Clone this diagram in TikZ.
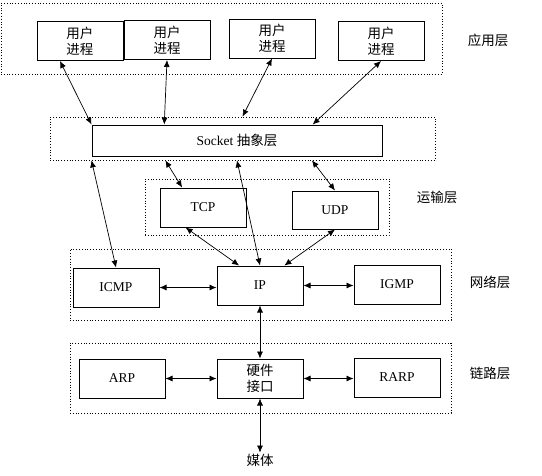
\documentclass[tikz,border=0pt]{standalone}
\usepackage{fontspec}
\setmainfont{Liberation Serif}
\newfontfamily\cjk{Noto Sans CJK SC}
\usetikzlibrary{arrows.meta,calc}
\begin{document}
\begin{tikzpicture}[x=1pt,y=-1pt,
  box/.style={draw,line width=1pt,minimum width=86pt,minimum height=39pt,inner sep=0pt,align=center,font=\fontsize{13.5}{16}\selectfont},
  cbox/.style={box,font=\cjk\fontsize{13.5}{16}\selectfont},
  layer/.style={draw,dotted,line width=0.8pt,inner sep=0pt},
  link/.style={{Latex[length=7pt,width=6pt]}-{Latex[length=7pt,width=6pt]},line width=0.7pt},
  tag/.style={font=\cjk\fontsize{13.5}{16}\selectfont,inner sep=1pt}]
  \useasboundingbox[fill=white] (0,0) rectangle (542,475);
  \node[layer,minimum width=441pt,minimum height=71pt] (applayer) at (221.5,38.5) {};
  \node[layer,minimum width=385pt,minimum height=43pt] (socklayer) at (242.5,138.5) {};
  \node[layer,minimum width=244pt,minimum height=56pt] (translayer) at (267,207) {};
  \node[layer,minimum width=381pt,minimum height=71pt] (netlayer) at (260.5,284.5) {};
  \node[layer,minimum width=381pt,minimum height=70pt] (linklayer) at (260.5,378) {};
  \foreach \i/\x/\y in {1/80/41,2/167/40,3/272/38.5,4/381/41} {%
    \node[cbox] (proc\i) at (\x,\y) {用户\\进程};
  }
  \node[box,minimum width=290pt,minimum height=31pt] (socket) at (237,140.5) {Socket {\cjk 抽象层}};
  \node[box] (tcp) at (203,207.5) {TCP};
  \node[box,minimum height=38pt] (udp) at (335,210) {UDP};
  \node[box] (icmp) at (116,287.5) {ICMP};
  \node[box] (ip) at (260,285.5) {IP};
  \node[box] (igmp) at (397,284.5) {IGMP};
  \node[box] (arp) at (122,378.5) {ARP};
  \node[cbox] (hw) at (260,378.5) {硬件\\接口};
  \node[box] (rarp) at (397,377.5) {RARP};
  \node[tag] (media) at (260,460) {媒体};
  \node[tag] at (488,40) {应用层};
  \node[tag] at (437,197) {运输层};
  \node[tag] at (490,282) {网络层};
  \node[tag] at (490,373) {链路层};
  \draw[link] ($(proc1.south west)!0.27!(proc1.south east)$) -- (socket.north west);
  \draw[link] (proc2.south) -- ($(socket.north west)!0.25!(socket.north east)$);
  \draw[link] (proc3.south) -- (socklayer.north);
  \draw[link] (proc4.south) -- ($(socket.north west)!0.76!(socket.north east)$);
  \draw[link] (socket.south west |- socklayer.south) -- (icmp.north);
  \draw[link] ($(socklayer.south west)!0.3!(socklayer.south east)$) -- ($(tcp.north west)!0.26!(tcp.north east)$);
  \draw[link] (socket.south |- socklayer.south) -- (ip.north);
  \draw[link] ($(socklayer.south west)!0.68!(socklayer.south east)$) -- (udp.north);
  \draw[link] ($(tcp.south west)!0.3!(tcp.south east)$) -- ($(ip.north west)!0.26!(ip.north east)$);
  \draw[link] (udp.south) -- ($(ip.north west)!0.78!(ip.north east)$);
  \draw[link] (icmp.east) -- (icmp.east -| ip.west);
  \draw[link] (ip.east) -- (ip.east -| igmp.west);
  \draw[link] (ip) -- (hw);
  \draw[link] (arp) -- (hw);
  \draw[link] (hw.east) -- (hw.east -| rarp.west);
  \draw[link] (hw) -- (media);
\end{tikzpicture}
\end{document}
